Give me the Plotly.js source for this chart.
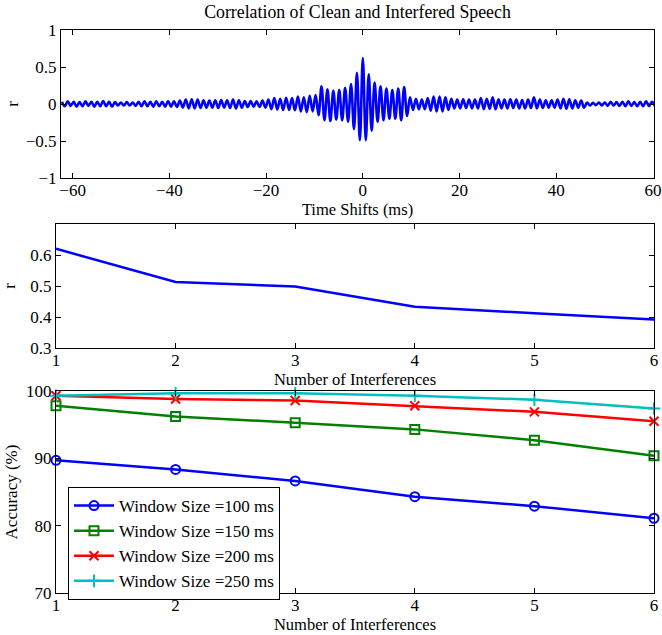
<!DOCTYPE html>
<html>
<head>
<meta charset="utf-8">
<script src="https://cdn.plot.ly/plotly-3.0.1.min.js"></script>
<style>html,body{margin:0;padding:0;background:#fff;}#chart{width:662px;height:635px;}</style>
</head>
<body>
<div id="chart"></div>
<script>
// ---- Panel 1: cross-correlation vs time shift (per oscillation cycle) ----
// oscillation cycle index k = -51 .. 49, peak at k*cycleMs, trough half a cycle later
const cycleFirst = -51;
const cycleMs = 1.22;
const corrPeaks = [
  0.03,0.035,0.03,0.025,0.035,0.03,0.03,0.04,0.03,0.025,
  0.02,0.025,0.02,0.03,0.035,0.03,0.035,0.03,0.04,0.035,
  0.045,0.06,0.065,0.06,0.05,0.045,0.05,0.055,0.05,0.06,
  0.05,0.04,0.04,0.035,0.045,0.06,0.08,0.07,0.085,0.08,
  0.1,0.09,0.11,0.12,
  0.24,0.2,0.18,0.19,0.22,0.27,0.42,
  0.62,
  0.40,0.29,0.24,0.21,0.19,0.21,0.23,0.09,
  0.07,0.06,0.08,0.1,0.1,0.09,0.07,0.06,0.065,0.06,
  0.06,0.08,0.07,0.09,0.065,0.06,0.065,0.06,0.055,0.06,
  0.09,0.06,0.05,0.05,0.06,0.07,0.065,0.05,0.045,0.02,
  0.015,0.02,0.02,0.03,0.025,0.03,0.035,0.025,0.03,0.035,0.03
];
const corrTroughs = [
  -0.03,-0.025,-0.035,-0.03,-0.025,-0.035,-0.03,-0.03,-0.035,-0.02,
  -0.02,-0.02,-0.025,-0.03,-0.03,-0.035,-0.03,-0.035,-0.035,-0.04,
  -0.05,-0.06,-0.06,-0.055,-0.05,-0.05,-0.055,-0.05,-0.055,-0.06,
  -0.05,-0.04,-0.035,-0.04,-0.05,-0.07,-0.075,-0.08,-0.08,-0.085,
  -0.1,-0.11,-0.1,-0.15,
  -0.22,-0.23,-0.21,-0.22,-0.24,-0.34,-0.49,
  -0.49,
  -0.36,-0.24,-0.22,-0.2,-0.2,-0.22,-0.16,-0.08,
  -0.07,-0.07,-0.09,-0.1,-0.1,-0.08,-0.06,-0.06,-0.055,-0.06,
  -0.06,-0.07,-0.065,-0.07,-0.06,-0.06,-0.055,-0.06,-0.06,-0.055,
  -0.06,-0.055,-0.05,-0.05,-0.06,-0.065,-0.06,-0.05,-0.05,-0.02,
  -0.015,-0.02,-0.025,-0.02,-0.025,-0.03,-0.025,-0.03,-0.03,-0.025,-0.03
];

// ---- Panel 2: correlation vs number of interferences ----
const interferences = [1, 2, 3, 4, 5, 6];
const corrByInterf = [0.62, 0.513, 0.498, 0.433, 0.412, 0.392];

// ---- Panel 3: accuracy vs number of interferences ----
const seriesNames = ['Window Size =100 ms', 'Window Size =150 ms', 'Window Size =200 ms', 'Window Size =250 ms'];
const acc100 = [89.7, 88.35, 86.65, 84.3, 82.9, 81.1];
const acc150 = [97.8, 96.2, 95.3, 94.3, 92.7, 90.4];
const acc200 = [99.3, 98.8, 98.6, 97.8, 96.9, 95.5];
const acc250 = [99.3, 99.65, 99.65, 99.3, 98.7, 97.4];

const seriesColors = ['#0000ff', '#008000', '#ff0000', '#00bfbf'];
const seriesSymbols = ['circle-open', 'square-open', 'x-thin-open', 'cross-thin-open'];

// build the correlation curve from the per-cycle extrema
const lagX = [], lagY = [];
for (let i = 0; i < corrPeaks.length; i++) {
  const k = cycleFirst + i;
  lagX.push(k * cycleMs);       lagY.push(corrPeaks[i]);
  lagX.push(k * cycleMs + cycleMs / 2); lagY.push(corrTroughs[i]);
}

const W = 662, H = 635;
const fx = p => p / W;
const fy = p => 1 - p / H;
const FAMILY = 'Liberation Serif, Times New Roman, serif';
const FONT = {family: FAMILY, size: 17, color: '#000'};
const XTFONT = {family: FAMILY, size: 16.5, color: '#000'};

function axisBase(extra) {
  return Object.assign({
    showline: true, mirror: 'ticks', linecolor: '#000', linewidth: 1,
    ticks: 'inside', ticklen: 5, tickwidth: 1, tickcolor: '#000',
    showgrid: false, zeroline: false, tickfont: FONT, fixedrange: true
  }, extra);
}

const traces = [];
traces.push({x: lagX, y: lagY, xaxis: 'x', yaxis: 'y', mode: 'lines', type: 'scatter',
  line: {color: '#0000ff', width: 2.6, shape: 'spline', smoothing: 1}, showlegend: false, hoverinfo: 'skip'});
traces.push({x: interferences, y: corrByInterf, xaxis: 'x2', yaxis: 'y2', mode: 'lines', type: 'scatter',
  line: {color: '#0000ff', width: 2.5}, showlegend: false, hoverinfo: 'skip'});
[acc100, acc150, acc200, acc250].forEach((vals, i) => {
  traces.push({x: interferences, y: vals, xaxis: 'x3', yaxis: 'y3', mode: 'lines+markers', type: 'scatter',
    name: seriesNames[i], cliponaxis: false,
    line: {color: seriesColors[i], width: 2.5},
    marker: {symbol: seriesSymbols[i], size: 9, color: seriesColors[i], line: {color: seriesColors[i], width: 2}},
    hoverinfo: 'skip'});
});

const layout = {
  width: W, height: H, margin: {l: 0, r: 0, t: 0, b: 0},
  paper_bgcolor: '#fff', plot_bgcolor: '#fff', font: FONT,
  title: {text: 'Correlation of Clean and Interfered Speech', font: {family: FAMILY, size: 17.8, color: '#000'},
    x: (61 + 654) / 2 / W, xanchor: 'center', y: fy(12), yanchor: 'middle'},
  xaxis: axisBase({domain: [fx(61), fx(654)], anchor: 'y', range: [-62.4, 60.2],
    tickvals: [-60, -40, -20, 0, 20, 40, 60], ticklabelstandoff: -3,
    title: {text: 'Time Shifts (ms)', font: XTFONT, standoff: 0}}),
  yaxis: axisBase({domain: [fy(178), fy(30)], anchor: 'x', range: [-1, 1],
    tickvals: [-1, -0.5, 0, 0.5, 1],
    title: {text: 'r', font: FONT, standoff: 2}}),
  xaxis2: axisBase({domain: [fx(56), fx(654)], anchor: 'y2', range: [1, 6],
    tickvals: interferences, ticklabelstandoff: -3,
    title: {text: 'Number of Interferences', font: XTFONT, standoff: 0}}),
  yaxis2: axisBase({domain: [fy(348), fy(224)], anchor: 'x2', range: [0.3, 0.7],
    tickvals: [0.3, 0.4, 0.5, 0.6],
    title: {text: 'r', font: FONT, standoff: 10}}),
  xaxis3: axisBase({domain: [fx(56), fx(654)], anchor: 'y3', range: [1, 6],
    tickvals: interferences, ticklabelstandoff: -3,
    title: {text: 'Number of Interferences', font: XTFONT, standoff: 1}}),
  yaxis3: axisBase({domain: [fy(593), fy(391)], anchor: 'x3', range: [70, 100],
    tickvals: [70, 80, 90, 100],
    title: {text: 'Accuracy (%)', font: FONT, standoff: 4}}),
  legend: {x: fx(68), y: fy(487), xanchor: 'left', yanchor: 'top',
    bgcolor: '#fff', bordercolor: '#000', borderwidth: 1, font: FONT,
    tracegroupgap: 0, itemwidth: 40}
};

Plotly.newPlot('chart', traces, layout, {staticPlot: true, displayModeBar: false});
</script>
</body>
</html>
